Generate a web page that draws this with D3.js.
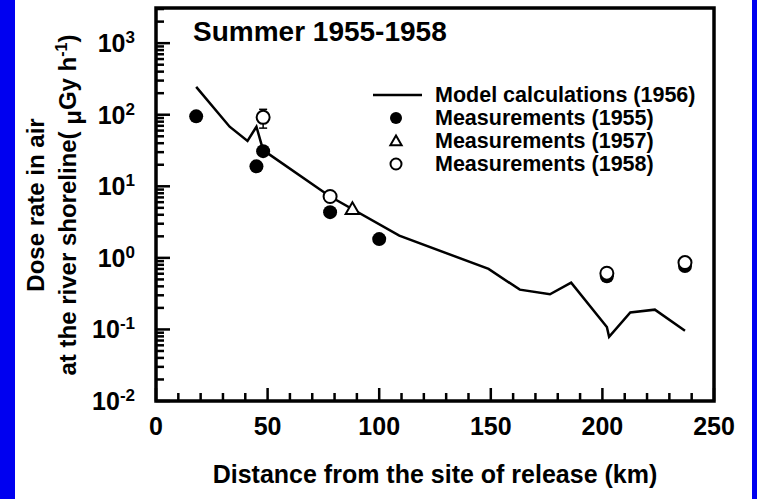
<!DOCTYPE html>
<meta charset="utf-8">
<head>
<script src="https://cdn.jsdelivr.net/npm/d3@7"></script>
<style>
  body { margin: 0; background: #fff; }
  text { font-family: "Liberation Sans", Arial, sans-serif; font-weight: bold; fill: #000; }
</style>
</head>
<body>
<svg id="svg"></svg>
<script>
// model calculations (1956)
var modelKm   = [18, 33, 41, 45, 48, 78, 109, 149, 163, 176.5, 186, 202, 203, 212.5, 223.5, 237];
var modelDose = [245, 68, 43, 68, 32, 7.2, 2.05, 0.70, 0.36, 0.31, 0.45, 0.108, 0.079, 0.173, 0.189, 0.096];

// measurements
var km1955   = [18, 45, 48, 78, 100, 202, 237];
var dose1955 = [95, 19, 31, 4.35, 1.83, 0.553, 0.77];
var km1957   = [88];
var dose1957 = [4.8];
var km1958   = [48, 78, 202, 237];
var dose1958 = [92, 7.2, 0.61, 0.86];
var err1958Low  = [65, null, null, null];
var err1958High = [119, null, null, null];

var xTicks = [0, 50, 100, 150, 200, 250];
var yExps  = [-2, -1, 0, 1, 2, 3];
var legendLabels = ["Model calculations (1956)", "Measurements (1955)", "Measurements (1957)", "Measurements (1958)"];

var W = 757, H = 499;
var margin = { left: 156, right: 43, top: 8, bottom: 98 };
var width = W - margin.left - margin.right;
var height = H - margin.top - margin.bottom;

var svg = d3.select("#svg").attr("width", W).attr("height", H);

// blue side strips
svg.append("rect").attr("x", 0).attr("y", 0).attr("width", 15).attr("height", H).attr("fill", "#0000f0");
svg.append("rect").attr("x", 752).attr("y", 0).attr("width", 5).attr("height", H).attr("fill", "#0000f0");

var g = svg.append("g").attr("transform", "translate(" + margin.left + "," + margin.top + ")");

var x = d3.scaleLinear().domain([0, 250]).range([0, width]);
var y = d3.scaleLog().domain([0.01, 3100]).range([height, 0]);

// frame
g.append("rect").attr("width", width).attr("height", height)
  .attr("fill", "none").attr("stroke", "#000").attr("stroke-width", 3.5);

// ticks, pointing inward
var xMinor = d3.range(0, 251, 10).filter(d => d % 50 !== 0);
var yMajor = yExps.map(e => Math.pow(10, e));
var yMinor = [];
yExps.forEach(function (e) {
  for (var m = 2; m <= 9; m++) {
    var v = m * Math.pow(10, e);
    if (v < 3100) yMinor.push(v);
  }
});
var ticks = g.append("g").attr("fill", "#000");
ticks.selectAll(".xmin").data(xMinor).enter().append("rect")
  .attr("x", d => x(d) - 1.25).attr("y", height - 8).attr("width", 2.5).attr("height", 8);
ticks.selectAll(".xmaj").data(xTicks).enter().append("rect")
  .attr("x", d => x(d) - 1.25).attr("y", height - 13).attr("width", 2.5).attr("height", 13);
ticks.selectAll(".ymin").data(yMinor).enter().append("rect")
  .attr("x", 0).attr("y", d => y(d) - 1.25).attr("width", 8).attr("height", 2.5);
ticks.selectAll(".ymaj").data(yMajor).enter().append("rect")
  .attr("x", 0).attr("y", d => y(d) - 1.25).attr("width", 14).attr("height", 2.5);

// x tick labels
g.selectAll(".xlab").data(xTicks).enter().append("text")
  .attr("x", d => x(d)).attr("y", height + 34)
  .attr("text-anchor", "middle").attr("font-size", 25)
  .text(d => d);

// y tick labels 10^n
var ylab = g.selectAll(".ylab").data(yExps).enter().append("text")
  .attr("x", -21).attr("y", d => y(Math.pow(10, d)) + 9)
  .attr("text-anchor", "end").attr("font-size", 25);
ylab.append("tspan").text("10");
ylab.append("tspan").attr("font-size", 17).attr("dy", -9).text(d => d);

// axis titles
svg.append("text")
  .attr("x", margin.left + width / 2).attr("y", 483)
  .attr("text-anchor", "middle").attr("font-size", 25)
  .text("Distance from the site of release (km)");

var yt = svg.append("g").attr("transform", "translate(44,205) rotate(-90)");
yt.append("text").attr("text-anchor", "middle").attr("font-size", 24).text("Dose rate in air");
var yt2 = yt.append("text").attr("y", 32).attr("text-anchor", "middle").attr("font-size", 24);
yt2.append("tspan").text("at the river shoreline( ");
yt2.append("tspan").attr("dy", 5).text("\u03bc");
yt2.append("tspan").attr("dy", -5).text("Gy h");
yt2.append("tspan").attr("font-size", 16).attr("dy", -9).text("-1");
yt2.append("tspan").attr("dy", 9).text(")");

// title
g.append("text").attr("x", 37).attr("y", 33).attr("font-size", 28).text("Summer 1955-1958");

// model line
var model = modelKm.map((k, i) => [k, modelDose[i]]);
var line = d3.line().x(d => x(d[0])).y(d => y(d[1]));
g.append("path").datum(model).attr("d", line)
  .attr("fill", "none").attr("stroke", "#000").attr("stroke-width", 2.5);

// 1955 solid circles
g.selectAll(".m55").data(km1955.map((k, i) => [k, dose1955[i]])).enter().append("circle")
  .attr("cx", d => x(d[0])).attr("cy", d => y(d[1])).attr("r", 7).attr("fill", "#000");

// 1957 triangle
var tri = d3.symbol().type(d3.symbolTriangle).size(80);
g.selectAll(".m57").data(km1957.map((k, i) => [k, dose1957[i]])).enter().append("path")
  .attr("d", tri).attr("transform", d => "translate(" + x(d[0]) + "," + (y(d[1]) + 1) + ")")
  .attr("fill", "#fff").attr("stroke", "#000").attr("stroke-width", 2);

// 1958 error bars and open circles
var m58 = km1958.map((k, i) => ({ k: k, v: dose1958[i], lo: err1958Low[i], hi: err1958High[i] }));
var eb = g.selectAll(".eb").data(m58.filter(d => d.lo != null)).enter().append("g")
  .attr("stroke", "#000").attr("stroke-width", 1.5);
eb.append("line").attr("x1", d => x(d.k)).attr("x2", d => x(d.k)).attr("y1", d => y(d.lo)).attr("y2", d => y(d.hi));
eb.append("line").attr("x1", d => x(d.k) - 4).attr("x2", d => x(d.k) + 4).attr("y1", d => y(d.lo)).attr("y2", d => y(d.lo));
eb.append("line").attr("x1", d => x(d.k) - 4).attr("x2", d => x(d.k) + 4).attr("y1", d => y(d.hi)).attr("y2", d => y(d.hi));
g.selectAll(".m58").data(m58).enter().append("circle")
  .attr("cx", d => x(d.k)).attr("cy", d => y(d.v)).attr("r", 6.5)
  .attr("fill", "#fff").attr("stroke", "#000").attr("stroke-width", 2);

// legend
var leg = svg.append("g").attr("transform", "translate(373,95)");
leg.selectAll("text").data(legendLabels).enter().append("text")
  .attr("x", 62).attr("y", (d, i) => i * 23 + 7).attr("font-size", 21.5).text(d => d);
leg.append("line").attr("x1", 0).attr("x2", 49).attr("y1", 0).attr("y2", 0)
  .attr("stroke", "#000").attr("stroke-width", 2.5);
leg.append("circle").attr("cx", 23).attr("cy", 23).attr("r", 6).attr("fill", "#000");
leg.append("path").attr("d", d3.symbol().type(d3.symbolTriangle).size(55))
  .attr("transform", "translate(23,47)").attr("fill", "#fff").attr("stroke", "#000").attr("stroke-width", 2);
leg.append("circle").attr("cx", 23).attr("cy", 69).attr("r", 5.5)
  .attr("fill", "#fff").attr("stroke", "#000").attr("stroke-width", 2);
</script>
</body>
